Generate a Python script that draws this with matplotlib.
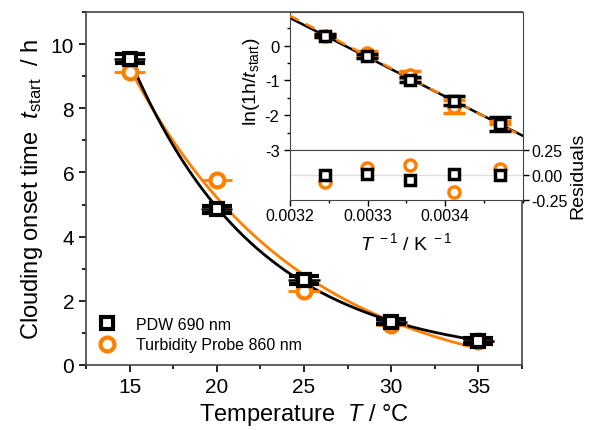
import numpy as np
import matplotlib.pyplot as plt
from matplotlib.lines import Line2D
from matplotlib.ticker import MultipleLocator, AutoMinorLocator

plt.rcParams['font.family'] = ['Liberation Sans', 'DejaVu Sans']
plt.rcParams['mathtext.fontset'] = 'custom'
plt.rcParams['mathtext.it'] = 'Liberation Sans:italic'
plt.rcParams['mathtext.rm'] = 'Liberation Sans'

temps = [15, 20, 25, 30, 35]
t_pdw = [9.55, 4.85, 2.65, 1.35, 0.75]
t_turb = [9.12, 5.75, 2.30, 1.25, 0.75]
xerr_main = 0.9
yerr_pdw = [0.13, 0.12, 0.12, 0.08, 0.1]

# inset errors (ln scale), same order as temps
lnerr_pdw = [0.2, 0.12, 0.07, 0.05, 0.05]
lnerr_turb = [0.05, 0.2, 0.1, 0.07, 0.05]

# residuals, same order as temps
res_pdw = [0.0, 0.01, -0.045, 0.01, 0.0]
res_turb = [0.06, -0.165, 0.10, 0.07, -0.07]

black = 'black'
orange = '#ff7f00'

invT = 1.0 / (np.array(temps) + 273.15)
ln_pdw = np.log(1.0 / np.array(t_pdw))
ln_turb = np.log(1.0 / np.array(t_turb))
fit_pdw = np.polyfit(invT, ln_pdw, 1)
fit_turb = np.polyfit(invT, ln_turb, 1)


def exp_fit(x, y):
    # y = y0 + A*exp(-k*x), least squares over a grid of k
    x = np.asarray(x, float)
    y = np.asarray(y, float)
    best = None
    for k in np.linspace(0.02, 0.4, 800):
        M = np.column_stack([np.ones_like(x), np.exp(-k * x)])
        coef, *_ = np.linalg.lstsq(M, y, rcond=None)
        sse = np.sum((M @ coef - y) ** 2)
        if best is None or sse < best[0]:
            best = (sse, k, coef)
    return best[1], best[2]


fig = plt.figure(figsize=(5.89, 4.31), dpi=100)
ax = fig.add_axes([86 / 589, 65 / 431, 436 / 589, 353 / 431])

# fit curves in main plot
tt = np.linspace(15, 35, 200)
k, c = exp_fit(temps, t_turb)
ax.plot(tt, c[0] + c[1] * np.exp(-k * tt), color=orange, lw=2, zorder=2)
k, c = exp_fit(temps, t_pdw)
ax.plot(tt, c[0] + c[1] * np.exp(-k * tt), color=black, lw=2, zorder=3)

ax.errorbar(temps, t_turb, xerr=xerr_main, fmt='o', ms=10, mfc='white',
            mec=orange, mew=3, color=orange, elinewidth=2, capsize=0, zorder=4)
ax.errorbar(temps, t_pdw, xerr=xerr_main, fmt='none', color=black, elinewidth=1.8,
            capsize=0, zorder=5)
ax.errorbar(temps, t_pdw, yerr=yerr_pdw, fmt='s', ms=9, mfc='white',
            mec=black, mew=3, color=black, elinewidth=1.8, capsize=11, capthick=1.8, zorder=6)

ax.set_xlim(12.5, 37.5)
ax.set_ylim(0, 11)
ax.xaxis.set_major_locator(MultipleLocator(5))
ax.xaxis.set_minor_locator(AutoMinorLocator(2))
ax.yaxis.set_major_locator(MultipleLocator(2))
ax.yaxis.set_minor_locator(AutoMinorLocator(2))
ax.tick_params(which='both', direction='out', top=False, right=False, labelsize=15, width=1.2)
ax.tick_params(which='major', length=5)
ax.tick_params(which='minor', length=3)
for s in ax.spines.values():
    s.set_color('#444444')
    s.set_linewidth(1.2)
ax.set_xlabel(r'Temperature  $\mathit{T}$ / °C', fontsize=17)
ax.set_ylabel(r'Clouding onset time  $\mathit{t}_{\mathrm{start}}$  / h', fontsize=17)

handles = [Line2D([], [], ls='none', marker='s', ms=9, mfc='white', mec=black, mew=3),
           Line2D([], [], ls='none', marker='o', ms=10, mfc='white', mec=orange, mew=3)]
ax.legend(handles, ['PDW 690 nm', 'Turbidity Probe 860 nm'], loc='lower left',
          bbox_to_anchor=(0.0, 0.0), frameon=False, fontsize=11.5, handlelength=1.0,
          handletextpad=1.3, borderaxespad=0.4, labelspacing=0.35)

# inset, upper panel
ax2 = fig.add_axes([290 / 589, (431 - 151) / 431, 233 / 589, 138 / 431])
xx = np.linspace(0.0032, 0.0035, 50)
ax2.plot(xx, np.polyval(fit_pdw, xx), color=black, lw=1.8, zorder=2)
ax2.plot(xx, np.polyval(fit_turb, xx), color=orange, lw=1.8, ls=(0, (4, 3)), zorder=3)
ax2.errorbar(invT, ln_turb, yerr=lnerr_turb, fmt='o', ms=8, mfc='white', mec=orange, mew=2.5,
             color=orange, elinewidth=1.5, capsize=8, capthick=1.5, zorder=4)
ax2.errorbar(invT, ln_pdw, yerr=lnerr_pdw, fmt='s', ms=7, mfc='white', mec=black, mew=2.5,
             color=black, elinewidth=1.5, capsize=8, capthick=1.5, zorder=5)
ax2.set_xlim(0.0032, 0.0035)
ax2.set_ylim(-3, 0.97)
ax2.tick_params(axis='x', which='both', bottom=False, labelbottom=False)
ax2.tick_params(axis='y', which='both', direction='out', right=False, labelsize=12, width=1)
ax2.tick_params(axis='y', which='major', length=4)
ax2.tick_params(axis='y', which='minor', length=2.5)
ax2.set_yticks([0, -1, -2, -3])
ax2.set_yticklabels(['0', '-1', '-2', '-3'])
ax2.yaxis.set_minor_locator(MultipleLocator(0.5))
ax2.set_ylabel(r'ln(1h/$\mathit{t}_{\mathrm{start}}$)', fontsize=14, labelpad=2)
for s in ax2.spines.values():
    s.set_color('#444444')

# inset, residual panel
ax3 = fig.add_axes([290 / 589, (431 - 201) / 431, 233 / 589, 50 / 431])
ax3.axhline(0, color='#dddddd', lw=1, zorder=1)
ax3.plot(invT, res_turb, 'o', ms=8, mfc='white', mec=orange, mew=2.5, zorder=3)
ax3.plot(invT, res_pdw, 's', ms=7, mfc='white', mec=black, mew=2.5, zorder=4)
ax3.set_xlim(0.0032, 0.0035)
ax3.set_ylim(-0.25, 0.25)
ax3.set_xticks([0.0032, 0.0033, 0.0034])
ax3.set_xticklabels(['0.0032', '0.0033', '0.0034'])
ax3.xaxis.set_minor_locator(MultipleLocator(0.00005))
ax3.yaxis.tick_right()
ax3.yaxis.set_label_position('right')
ax3.set_yticks([0.25, 0.0, -0.25])
ax3.set_yticklabels(['0.25', '0.00', '-0.25'])
ax3.tick_params(which='both', direction='out', labelsize=11.5, width=1, pad=2)
ax3.tick_params(which='major', length=4)
ax3.tick_params(which='minor', length=2.5)
ax3.set_ylabel('Residuals', fontsize=14, labelpad=1)
ax3.set_xlabel(r'$\mathit{T}^{\ -1}$ / K$^{\ -1}$', fontsize=14, labelpad=6)
for s in ax3.spines.values():
    s.set_color('#444444')

fig.savefig('out.png', dpi=100)
